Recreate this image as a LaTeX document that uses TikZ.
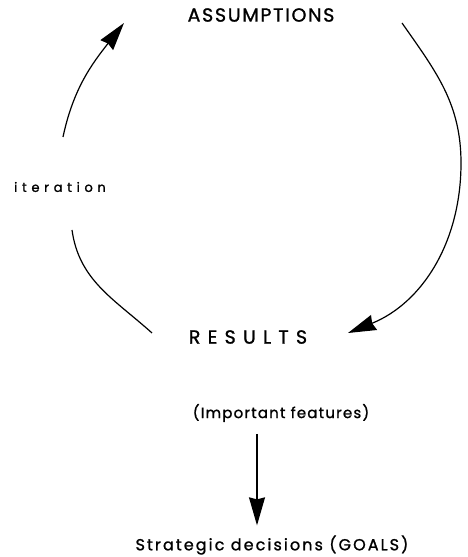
\documentclass[tikz,border=0pt]{standalone}
\usepackage{fontspec}
\setmainfont{Poppins}
\newfontfamily\capsfont[LetterSpace=9,FakeBold=1.2]{Poppins}
\newfontfamily\widefont[LetterSpace=38,FakeBold=1.2]{Poppins}
\newfontfamily\smallfont[LetterSpace=36,FakeBold=1.2]{Poppins}
\newfontfamily\loosefont[LetterSpace=8,FakeBold=1.2]{Poppins}
\newfontfamily\goalfont[LetterSpace=13,FakeBold=1.2]{Poppins}
\usetikzlibrary{arrows.meta}

\begin{document}
\begin{tikzpicture}[
x=1pt, y=1pt,
word/.style={inner sep=0pt, outer sep=0pt},
caps/.style={word, font=\capsfont\fontsize{19}{22}\selectfont},
spaced/.style={word, font=\widefont\fontsize{19}{22}\selectfont},
small/.style={word, font=\smallfont\fontsize{13}{15}\selectfont},
plain/.style={word, font=\loosefont\fontsize{15}{18}\selectfont},
goal/.style={word, font=\goalfont\fontsize{16}{19}\selectfont},
cyc/.style={line width=1.2pt},
post/.style={-{Stealth[length=28pt,width=16pt,inset=2pt]},line width=1.2pt}
]
\useasboundingbox (0,0) rectangle (467,557);

\node[caps]   (assum) at (261,542) {ASSUMPTIONS};
\node[small]  (iter)  at (60,370)  {iteration};
\node[spaced] (res)   at (248,220) {RESULTS};
\node[plain]  (feat)  at (281,144) {(Important features)};
\node[goal]   (goals) at (272,12)  {Strategic decisions (GOALS)};

\coordinate (a1) at (63,420);
\coordinate (a2) at (124,534);
\coordinate (b1) at (402,534);
\coordinate (b2) at (461,394);
\coordinate (b3) at (348,224);
\coordinate (c1) at (72,327);
\coordinate (c2) at (152,224);
\coordinate (dx) at (257,0);

\draw[post] (a1) to[out=78,in=-128] (a2);
\draw[post] (b1) to[out=-55,in=90] (b2) to[out=-90,in=22] (b3);
\draw[cyc]  (c1) to[out=-82,in=138] (c2);

\draw[post, shorten <=12pt, shorten >=10pt] (feat.south -| dx) -- (goals.north -| dx);
%
\end{tikzpicture}
\end{document}
